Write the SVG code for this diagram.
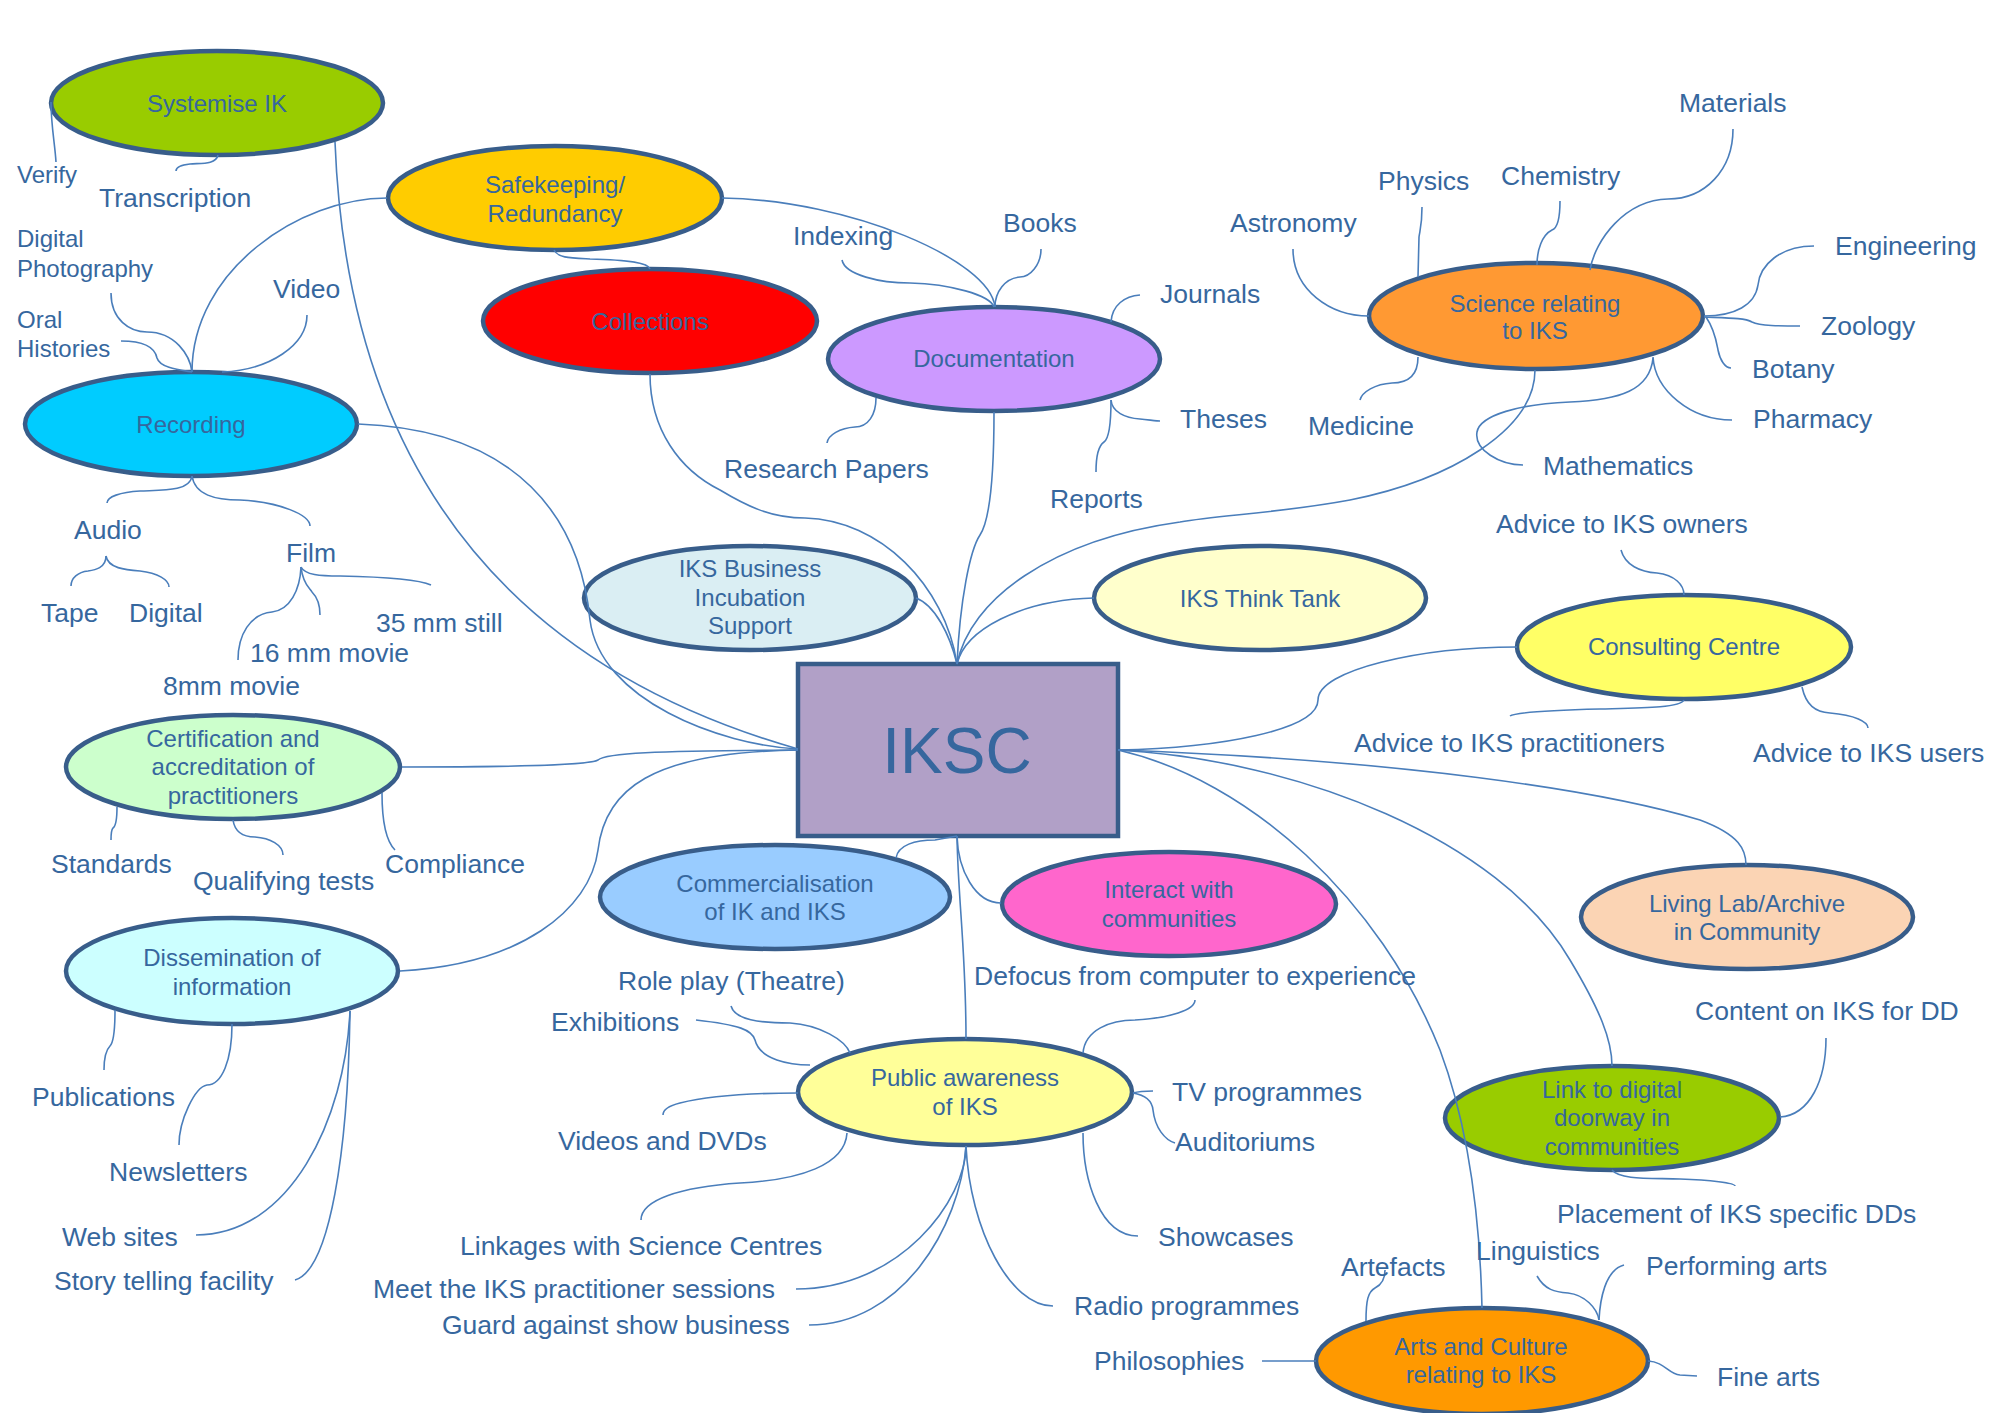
<svg xmlns="http://www.w3.org/2000/svg" width="1999" height="1413" viewBox="0 0 1999 1413">
<style>
  text { font-family: "Liberation Sans", Arial, sans-serif; fill: #36679E; }
  .l { font-size: 26.5px; }
  .s { font-size: 24px; }
  .nl { font-size: 24px; text-anchor: middle; }
  .node ellipse, .node rect { stroke: #385D8A; stroke-width: 4.5; }
  #connectors path { fill: none; stroke: #4A7EBB; stroke-width: 1.6; }
</style>
<rect width="1999" height="1413" fill="#FFFFFF"/>

<!-- hub -->
<g id="iksc" class="node">
  <rect x="798" y="664" width="320" height="172" fill="#B1A0C7"/>
  <text x="957" y="773" style="font-size:64px" text-anchor="middle">IKSC</text>
</g>

<!-- branch nodes -->
<g id="systemise" class="node">
  <ellipse cx="217" cy="103" rx="166" ry="52" fill="#99CC00"/>
  <text class="nl" x="217" y="112">Systemise IK</text>
</g>
<g id="safekeeping" class="node">
  <ellipse cx="555" cy="198" rx="167" ry="52" fill="#FFCC00"/>
  <text class="nl" x="555" y="193">Safekeeping/</text>
  <text class="nl" x="555" y="222">Redundancy</text>
</g>
<g id="collections" class="node">
  <ellipse cx="650" cy="321" rx="167" ry="52" fill="#FF0000"/>
  <text class="nl" x="650" y="330">Collections</text>
</g>
<g id="documentation" class="node">
  <ellipse cx="994" cy="359" rx="166" ry="52" fill="#CC99FF"/>
  <text class="nl" x="994" y="367">Documentation</text>
</g>
<g id="recording" class="node">
  <ellipse cx="191" cy="424" rx="166" ry="52" fill="#00CCFF"/>
  <text class="nl" x="191" y="433">Recording</text>
</g>
<g id="science" class="node">
  <ellipse cx="1536" cy="316" rx="167" ry="53" fill="#FF9933"/>
  <text class="nl" x="1535" y="312">Science relating</text>
  <text class="nl" x="1535" y="339">to IKS</text>
</g>
<g id="business" class="node">
  <ellipse cx="750" cy="598" rx="166" ry="52" fill="#DAEEF3"/>
  <text class="nl" x="750" y="577">IKS Business</text>
  <text class="nl" x="750" y="606">Incubation</text>
  <text class="nl" x="750" y="634">Support</text>
</g>
<g id="thinktank" class="node">
  <ellipse cx="1260" cy="598" rx="166" ry="52" fill="#FFFFCC"/>
  <text class="nl" x="1260" y="607">IKS Think Tank</text>
</g>
<g id="consulting" class="node">
  <ellipse cx="1684" cy="647" rx="167" ry="52" fill="#FFFF66"/>
  <text class="nl" x="1684" y="655">Consulting Centre</text>
</g>
<g id="certification" class="node">
  <ellipse cx="233" cy="767" rx="167" ry="52" fill="#CCFFCC"/>
  <text class="nl" x="233" y="747">Certification and</text>
  <text class="nl" x="233" y="775">accreditation of</text>
  <text class="nl" x="233" y="804">practitioners</text>
</g>
<g id="commercialisation" class="node">
  <ellipse cx="775" cy="897" rx="175" ry="52" fill="#99CCFF"/>
  <text class="nl" x="775" y="892">Commercialisation</text>
  <text class="nl" x="775" y="920">of IK and IKS</text>
</g>
<g id="interact" class="node">
  <ellipse cx="1169" cy="904" rx="167" ry="52" fill="#FF66CC"/>
  <text class="nl" x="1169" y="898">Interact with</text>
  <text class="nl" x="1169" y="927">communities</text>
</g>
<g id="livinglab" class="node">
  <ellipse cx="1747" cy="917" rx="166" ry="52" fill="#FBD4B4"/>
  <text class="nl" x="1747" y="912">Living Lab/Archive</text>
  <text class="nl" x="1747" y="940">in Community</text>
</g>
<g id="dissemination" class="node">
  <ellipse cx="232" cy="971" rx="166" ry="53" fill="#CCFFFF"/>
  <text class="nl" x="232" y="966">Dissemination of</text>
  <text class="nl" x="232" y="995">information</text>
</g>
<g id="public" class="node">
  <ellipse cx="965" cy="1092" rx="167" ry="53" fill="#FFFF99"/>
  <text class="nl" x="965" y="1086">Public awareness</text>
  <text class="nl" x="965" y="1115">of IKS</text>
</g>
<g id="digitaldoorway" class="node">
  <ellipse cx="1612" cy="1118" rx="167" ry="52" fill="#99CC00"/>
  <text class="nl" x="1612" y="1098">Link to digital</text>
  <text class="nl" x="1612" y="1126">doorway in</text>
  <text class="nl" x="1612" y="1155">communities</text>
</g>
<g id="arts" class="node">
  <ellipse cx="1482" cy="1361" rx="166" ry="53" fill="#FF9900"/>
  <text class="nl" x="1481" y="1355">Arts and Culture</text>
  <text class="nl" x="1481" y="1383">relating to IKS</text>
</g>

<!-- connectors -->
<g id="connectors">
  <!-- hub links -->
  <path d="M335,142 C345,400 450,650 798,749"/>
  <path d="M358,424 C520,430 580,520 590,620 C600,700 720,745 798,749"/>
  <path d="M402,767 C500,767 590,765 598,760 C606,753 650,751 798,750"/>
  <path d="M400,971 C520,965 590,910 598,850 C605,790 650,752 798,750"/>
  <path d="M650,374 C650,430 680,470 720,490 C745,505 770,518 805,518 C880,520 945,585 957,664"/>
  <path d="M916,598 C935,605 950,635 957,664"/>
  <path d="M994,412 C994,480 990,520 980,535 C970,550 960,600 957,664"/>
  <path d="M1535,370 C1535,430 1450,480 1350,500 C1280,513 1220,515 1180,522 C1050,540 970,600 957,664"/>
  <path d="M1094,598 C1020,600 965,630 957,664"/>
  <path d="M1118,750 C1220,748 1318,730 1318,700 C1318,670 1420,647 1517,647"/>
  <path d="M1118,750 C1400,760 1600,790 1700,820 C1740,835 1746,850 1746,865"/>
  <path d="M1118,750 C1300,760 1500,840 1570,960 C1600,1010 1612,1040 1612,1066"/>
  <path d="M1118,750 C1250,780 1380,900 1440,1050 C1470,1130 1480,1220 1482,1308"/>
  <path d="M896,858 C898,845 915,840 935,840 L957,836"/>
  <path d="M957,836 C958,870 975,903 1001,903"/>
  <path d="M957,836 C958,900 966,950 966,1039"/>
  <!-- between branches -->
  <path d="M387,198 C300,198 192,270 192,372"/>
  <path d="M554,250 C558,258 570,258 590,259 C630,260 648,263 650,269"/>
  <path d="M722,198 C850,200 990,260 995,307"/>
  <!-- Systemise IK -->
  <path d="M51,102 C51,125 55,145 56,162"/>
  <path d="M218,155 C216,165 200,163 190,164 C180,165 176,168 176,171"/>
  <!-- Recording -->
  <path d="M111,293 C111,320 130,332 147,332 C175,332 190,355 192,372"/>
  <path d="M121,341 C145,341 155,348 157,358 C160,368 180,370 192,372"/>
  <path d="M307,315 C307,345 270,370 222,372"/>
  <path d="M192,476 C190,492 160,490 140,491 C120,492 107,497 107,503"/>
  <path d="M192,476 C195,495 215,500 240,500 C280,502 310,515 310,526"/>
  <path d="M106,556 C106,568 95,570 88,571 C78,572 71,578 71,586"/>
  <path d="M106,556 C108,568 125,570 140,571 C158,573 169,580 169,587"/>
  <path d="M301,567 C300,590 290,610 272,612 C250,614 238,635 238,660"/>
  <path d="M301,567 C303,585 310,588 312,592 C318,598 320,605 320,615"/>
  <path d="M301,567 C305,575 320,576 340,576 C390,577 420,580 431,585"/>
  <!-- Certification -->
  <path d="M117,807 C117,820 116,826 113,828 C111,830 111,835 111,840"/>
  <path d="M233,820 C235,833 245,837 255,837 C270,838 283,845 283,855"/>
  <path d="M382,793 C382,820 385,840 395,850"/>
  <!-- Dissemination -->
  <path d="M115,1010 C115,1030 113,1043 110,1046 C106,1050 104,1060 104,1070"/>
  <path d="M232,1024 C232,1060 222,1085 207,1085 C195,1087 179,1120 179,1145"/>
  <path d="M350,1011 C345,1120 290,1235 196,1235"/>
  <path d="M350,1011 C348,1150 330,1270 295,1280"/>
  <!-- Documentation -->
  <path d="M842,260 C845,275 880,283 910,283 C950,284 990,295 994,307"/>
  <path d="M1041,249 C1041,265 1030,277 1020,277 C1005,278 995,292 995,307"/>
  <path d="M1140,295 C1125,296 1112,305 1111,322"/>
  <path d="M1111,400 C1112,412 1125,418 1140,419 C1150,420 1158,421 1160,421"/>
  <path d="M1111,400 C1111,420 1110,438 1104,442 C1098,446 1096,460 1096,472"/>
  <path d="M876,398 C876,415 868,427 855,427 C840,428 828,435 827,443"/>
  <!-- Science -->
  <path d="M1293,249 C1293,290 1330,316 1369,316"/>
  <path d="M1422,207 C1422,225 1420,230 1419,237 L1418,277"/>
  <path d="M1560,201 C1560,218 1558,228 1552,230 C1542,235 1537,250 1537,265"/>
  <path d="M1733,129 C1733,170 1705,199 1668,199 C1625,200 1595,240 1590,270"/>
  <path d="M1814,246 C1780,246 1760,265 1758,285 C1755,305 1735,316 1704,316"/>
  <path d="M1704,317 C1730,318 1745,318 1752,322 C1760,326 1780,326 1800,326"/>
  <path d="M1706,317 C1715,330 1717,345 1718,350 C1720,360 1725,368 1731,368"/>
  <path d="M1653,357 C1655,390 1690,420 1732,420"/>
  <path d="M1653,358 C1650,390 1620,400 1570,402 C1520,404 1480,415 1477,432 C1474,450 1500,465 1523,465"/>
  <path d="M1418,357 C1418,375 1408,383 1392,383 C1375,384 1362,392 1360,400"/>
  <!-- Consulting Centre -->
  <path d="M1621,550 C1625,565 1640,572 1657,573 C1675,575 1684,585 1684,595"/>
  <path d="M1684,700 C1680,708 1640,708 1600,709 C1560,710 1515,712 1510,716"/>
  <path d="M1802,687 C1806,705 1815,712 1830,713 C1855,715 1868,722 1868,728"/>
  <!-- Public awareness -->
  <path d="M731,1006 C735,1020 760,1023 790,1023 C820,1025 845,1040 850,1053"/>
  <path d="M696,1020 C740,1025 752,1030 755,1040 C760,1060 790,1065 810,1065"/>
  <path d="M798,1093 C740,1093 700,1098 680,1103 C668,1106 663,1110 663,1115"/>
  <path d="M847,1133 C845,1165 800,1180 740,1183 C680,1187 641,1200 641,1220"/>
  <path d="M966,1146 C966,1200 900,1289 796,1289"/>
  <path d="M966,1146 C960,1230 900,1325 809,1325"/>
  <path d="M966,1146 C970,1230 1010,1306 1053,1306"/>
  <path d="M1083,1133 C1083,1180 1100,1236 1138,1236"/>
  <path d="M1133,1093 C1140,1091 1148,1091 1153,1091"/>
  <path d="M1133,1093 C1145,1095 1152,1100 1153,1110 C1155,1128 1165,1140 1175,1143"/>
  <path d="M1083,1053 C1085,1030 1110,1020 1135,1020 C1170,1018 1195,1010 1195,1000"/>
  <!-- Link to digital doorway -->
  <path d="M1826,1038 C1826,1080 1810,1115 1780,1117"/>
  <path d="M1612,1170 C1620,1180 1650,1178 1680,1179 C1710,1180 1735,1183 1735,1186"/>
  <!-- Arts and Culture -->
  <path d="M1366,1321 C1366,1300 1368,1292 1375,1288 C1383,1284 1385,1278 1385,1270"/>
  <path d="M1537,1276 C1545,1290 1555,1292 1568,1293 C1585,1295 1597,1308 1599,1320"/>
  <path d="M1599,1320 C1600,1300 1605,1270 1624,1265"/>
  <path d="M1648,1361 C1665,1362 1668,1374 1680,1375 L1697,1376"/>
  <path d="M1262,1361 L1316,1361"/>
</g>

<!-- leaf labels -->
<g id="labels">
  <text class="s" x="17" y="183">Verify</text>
  <text class="l" x="99" y="207">Transcription</text>
  <text class="s" x="17" y="247">Digital</text>
  <text class="s" x="17" y="277">Photography</text>
  <text class="l" x="273" y="298">Video</text>
  <text class="s" x="17" y="328">Oral</text>
  <text class="s" x="17" y="357">Histories</text>
  <text class="l" x="74" y="539">Audio</text>
  <text class="l" x="41" y="622">Tape</text>
  <text class="l" x="129" y="622">Digital</text>
  <text class="l" x="286" y="562">Film</text>
  <text class="l" x="376" y="632">35 mm still</text>
  <text class="l" x="250" y="662">16 mm movie</text>
  <text class="l" x="163" y="695">8mm movie</text>
  <text class="l" x="51" y="873">Standards</text>
  <text class="l" x="193" y="890">Qualifying tests</text>
  <text class="l" x="385" y="873">Compliance</text>
  <text class="l" x="32" y="1106">Publications</text>
  <text class="l" x="109" y="1181">Newsletters</text>
  <text class="l" x="62" y="1246">Web sites</text>
  <text class="l" x="54" y="1290">Story telling facility</text>
  <text class="l" x="618" y="990">Role play (Theatre)</text>
  <text class="l" x="551" y="1031">Exhibitions</text>
  <text class="l" x="558" y="1150">Videos and DVDs</text>
  <text class="l" x="460" y="1255">Linkages with Science Centres</text>
  <text class="l" x="373" y="1298">Meet the IKS practitioner sessions</text>
  <text class="l" x="442" y="1334">Guard against show business</text>
  <text class="l" x="974" y="985">Defocus from computer to experience</text>
  <text class="l" x="1172" y="1101">TV programmes</text>
  <text class="l" x="1175" y="1151">Auditoriums</text>
  <text class="l" x="1158" y="1246">Showcases</text>
  <text class="l" x="1074" y="1315">Radio programmes</text>
  <text class="l" x="1094" y="1370">Philosophies</text>
  <text class="l" x="1341" y="1276">Artefacts</text>
  <text class="l" x="1476" y="1260">Linguistics</text>
  <text class="l" x="1646" y="1275">Performing arts</text>
  <text class="l" x="1717" y="1386">Fine arts</text>
  <text class="l" x="1557" y="1223">Placement of IKS specific DDs</text>
  <text class="l" x="1695" y="1020">Content on IKS for DD</text>
  <text class="l" x="1496" y="533">Advice to IKS owners</text>
  <text class="l" x="1354" y="752">Advice to IKS practitioners</text>
  <text class="l" x="1753" y="762">Advice to IKS users</text>
  <text class="l" x="1543" y="475">Mathematics</text>
  <text class="l" x="1308" y="435">Medicine</text>
  <text class="l" x="1753" y="428">Pharmacy</text>
  <text class="l" x="1752" y="378">Botany</text>
  <text class="l" x="1821" y="335">Zoology</text>
  <text class="l" x="1835" y="255">Engineering</text>
  <text class="l" x="1679" y="112">Materials</text>
  <text class="l" x="1501" y="185">Chemistry</text>
  <text class="l" x="1378" y="190">Physics</text>
  <text class="l" x="1230" y="232">Astronomy</text>
  <text class="l" x="1160" y="303">Journals</text>
  <text class="l" x="1180" y="428">Theses</text>
  <text class="l" x="1050" y="508">Reports</text>
  <text class="l" x="724" y="478">Research Papers</text>
  <text class="l" x="793" y="245">Indexing</text>
  <text class="l" x="1003" y="232">Books</text>
</g>
</svg>
